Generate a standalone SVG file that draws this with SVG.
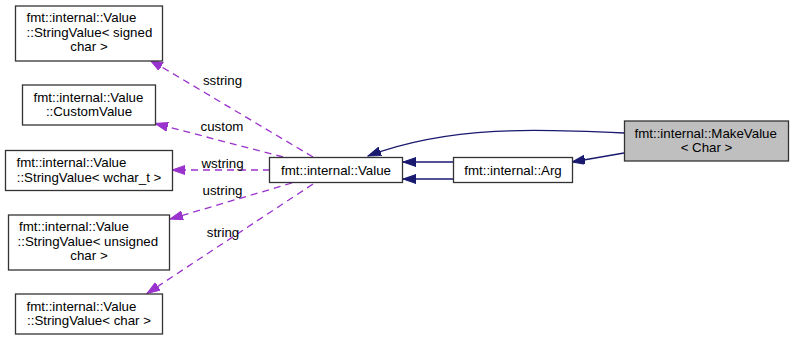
<svg xmlns="http://www.w3.org/2000/svg" width="795" height="340" viewBox="0 0 795 340">
  <style>
    .box { fill: #ffffff; stroke: #333333; stroke-width: 1.3; }
    .cur { fill: #bfbfbf; stroke: #333333; stroke-width: 1.3; }
    text { font-family: "Liberation Sans", Arial, sans-serif; font-size: 13.3px; fill: #000000; }
    .c { text-anchor: middle; }
    .inh { fill: none; stroke: #191970; stroke-width: 1.3; marker-end: url(#navyhead); }
    .use { fill: none; stroke: #9a32cd; stroke-width: 1.3; stroke-dasharray: 7,5; marker-end: url(#purplehead); }
  </style>
  <defs>
    <marker id="navyhead" markerUnits="userSpaceOnUse" markerWidth="14" markerHeight="10" refX="13" refY="4.5" orient="auto">
      <path d="M0,0 L13,4.5 L0,9 z" fill="#191970" stroke="#191970" stroke-width="1"/>
    </marker>
    <marker id="purplehead" markerUnits="userSpaceOnUse" markerWidth="14" markerHeight="10" refX="13" refY="4.5" orient="auto">
      <path d="M0,0 L13,4.5 L0,9 z" fill="#9a32cd" stroke="#9a32cd" stroke-width="1"/>
    </marker>
  </defs>

  <g id="connectors">
    <path class="inh" d="M624,133 C540,129 450,125 368,156"/>
    <path class="inh" d="M624,153 L572,162"/>
    <path class="inh" d="M453,162 L403,162"/>
    <path class="inh" d="M453,179 L403,179"/>
    <path class="use" d="M313,157 L150,60"/>
    <path class="use" d="M283,157 L155,123.5"/>
    <path class="use" d="M270,170 L172,170"/>
    <path class="use" d="M292,183 L170,219"/>
    <path class="use" d="M313,184 L147,293.5"/>
    <text class="c" x="222.5" y="85">sstring</text>
    <text class="c" x="222" y="131">custom</text>
    <text class="c" x="222.5" y="167.5">wstring</text>
    <text class="c" x="222.5" y="195">ustring</text>
    <text class="c" x="223" y="237">string</text>
  </g>

  <g id="node-makevalue">
    <rect class="cur" x="624.5" y="121" width="164" height="40"/>
    <text x="634.5" y="137.5">fmt::internal::MakeValue</text>
    <text class="c" x="706.5" y="152">&lt; Char &gt;</text>
  </g>

  <g id="node-value">
    <rect class="box" x="269.5" y="157.5" width="133" height="25"/>
    <text class="c" x="336" y="174.5">fmt::internal::Value</text>
  </g>

  <g id="node-arg">
    <rect class="box" x="453.5" y="157.5" width="119" height="25"/>
    <text class="c" x="513" y="174.5">fmt::internal::Arg</text>
  </g>

  <g id="node-sv-signed-char">
    <rect class="box" x="15.5" y="6" width="147" height="55"/>
    <text x="26.5" y="22">fmt::internal::Value</text>
    <text x="26.5" y="36.5">::StringValue&lt; signed</text>
    <text class="c" x="89" y="51"> char &gt;</text>
  </g>

  <g id="node-customvalue">
    <rect class="box" x="22.5" y="85" width="133" height="40"/>
    <text x="33.5" y="101.5">fmt::internal::Value</text>
    <text class="c" x="89" y="116">::CustomValue</text>
  </g>

  <g id="node-sv-wchar">
    <rect class="box" x="5.5" y="150.5" width="167" height="40"/>
    <text x="16.5" y="167">fmt::internal::Value</text>
    <text class="c" x="89" y="181.5">::StringValue&lt; wchar_t &gt;</text>
  </g>

  <g id="node-sv-unsigned-char">
    <rect class="box" x="8.5" y="215" width="161" height="55"/>
    <text x="19" y="231">fmt::internal::Value</text>
    <text x="17.5" y="245.5">::StringValue&lt; unsigned</text>
    <text class="c" x="89" y="260"> char &gt;</text>
  </g>

  <g id="node-sv-char">
    <rect class="box" x="15.5" y="294" width="147" height="40"/>
    <text x="26.5" y="310.5">fmt::internal::Value</text>
    <text class="c" x="89" y="325">::StringValue&lt; char &gt;</text>
  </g>
</svg>
